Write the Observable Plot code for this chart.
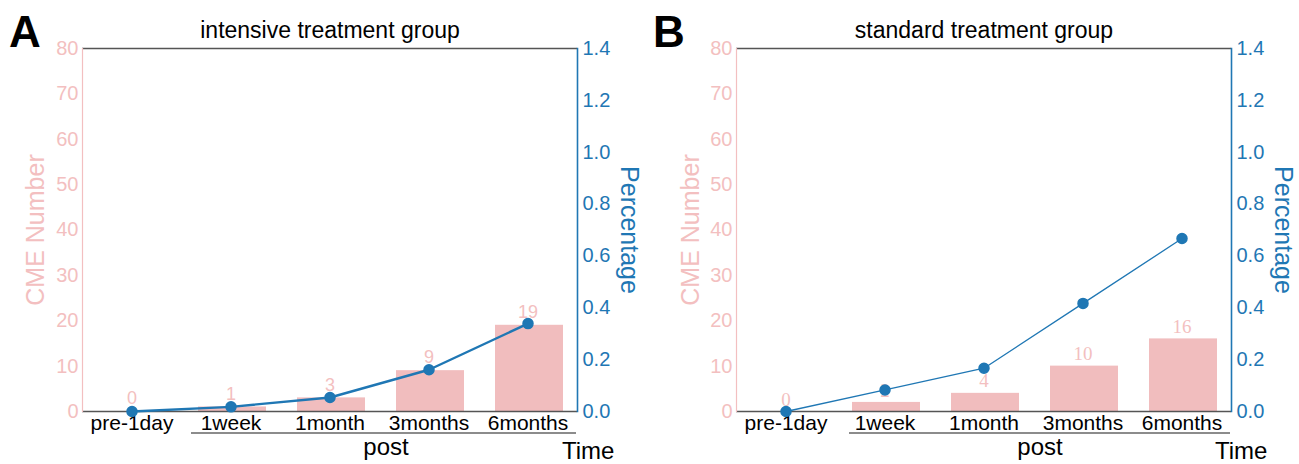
<!DOCTYPE html>
<html>
<head>
<meta charset="utf-8">
<script src="https://cdn.jsdelivr.net/npm/d3@7"></script>
<script src="https://cdn.jsdelivr.net/npm/@observablehq/plot@0.6"></script>
<style>
  html, body { margin: 0; padding: 0; background: #fff; }
  #root { position: relative; width: 1299px; height: 464px; overflow: hidden; font-family: "Liberation Sans", Arial, sans-serif; }
  .panel { position: absolute; top: 0; height: 464px; }
  .panel svg { position: absolute; left: 0; top: 0; }
  #ann { position: absolute; left: 0; top: 0; pointer-events: none; }
</style>
</head>
<body>
<div id="root">
  <div class="panel" id="pA" style="left:0px;width:650px"></div>
  <div class="panel" id="pB" style="left:650px;width:649px"></div>
</div>
<script>
// ---- data ----
const times = ["pre-1day", "1week", "1month", "3months", "6months"];
const countsA = [0, 1, 3, 9, 19];
const pctA = [0, 0.018, 0.054, 0.161, 0.339];
const countsB = [0, 2, 4, 10, 16];
const pctB = [0, 0.083, 0.167, 0.417, 0.667];
const leftTicks = [0, 10, 20, 30, 40, 50, 60, 70, 80];
const rightTicks = [0, 0.2, 0.4, 0.6, 0.8, 1.0, 1.2, 1.4];
const titles = ["intensive treatment group", "standard treatment group"];
const letters = ["A", "B"];

const BAR = "#f1bdbe";
const PINK = "#f3bfc0";
const BLUE = "#1f77b4";
const SPINE = "#555555";
const FONT = "Liberation Sans, Arial, sans-serif";

function panel(el, o) {
  const data = times.map((t, i) => ({t, n: o.counts[i], p: o.pcts[i]}));
  const common = {
    width: o.width, height: 464,
    marginLeft: o.ml, marginRight: o.mr, marginTop: 48, marginBottom: 53,
    style: {fontFamily: FONT, fontSize: "20px", background: "transparent", overflow: "visible"}
  };
  const bars = Plot.plot({
    ...common,
    x: {type: "band", domain: times, padding: 0},
    y: {domain: [0, 80]},
    marks: [
      Plot.barY(data, {x: "t", y: "n", fill: BAR, insetLeft: 17, insetRight: 14}),
      Plot.text(data, {x: "t", y: "n", text: d => String(d.n), dy: o.labelDy, fill: PINK,
        fontFamily: o.labelFont, fontSize: o.labelSize}),
      Plot.axisY({ticks: leftTicks, tickSize: 0, tickPadding: 4, color: PINK, label: null, fontSize: 20}),
      Plot.axisX({tickSize: 0, tickPadding: 4, color: "#000", label: null, fontSize: 21}),
      Plot.ruleY([80], {stroke: SPINE, strokeWidth: 1.6}),
      Plot.ruleY([0], {stroke: SPINE, strokeWidth: 1.6}),
      Plot.frame({anchor: "left", stroke: PINK, strokeWidth: 1.2}),
      Plot.text([o.title], {frameAnchor: "top", dy: -11, lineAnchor: "bottom", fill: "#000", fontSize: 23}),
      Plot.text(["CME Number"], {frameAnchor: "left", rotate: -90, dx: o.cmeDx, textAnchor: "middle",
        lineAnchor: "middle", fill: PINK, fontSize: 25})
    ]
  });
  const line = Plot.plot({
    ...common,
    x: {type: "band", domain: times, padding: 0, axis: null},
    y: {domain: [0, 1.4]},
    marks: [
      Plot.line(data, {x: "t", y: "p", stroke: BLUE, strokeWidth: o.lw}),
      Plot.dot(data, {x: "t", y: "p", r: 5, fill: BLUE, stroke: BLUE}),
      Plot.axisY({anchor: "right", ticks: rightTicks, tickFormat: ".1f", tickSize: 0, tickPadding: 5,
        color: BLUE, label: null, fontSize: 20}),
      Plot.frame({anchor: "right", stroke: BLUE, strokeWidth: 1.6}),
      Plot.text(["Percentage"], {frameAnchor: "right", rotate: 90, dx: 51, textAnchor: "middle",
        lineAnchor: "middle", fill: BLUE, fontSize: 25})
    ]
  });
  el.appendChild(bars);
  el.appendChild(line);
}

panel(document.getElementById("pA"), {
  counts: countsA, pcts: pctA, title: titles[0], width: 650, ml: 82, mr: 73,
  labelFont: FONT, labelSize: 18, labelDy: -13, lw: 2.4, cmeDx: -47
});
panel(document.getElementById("pB"), {
  counts: countsB, pcts: pctB, title: titles[1], width: 649, ml: 86, mr: 68,
  labelFont: "Liberation Serif, Times New Roman, serif", labelSize: 19, labelDy: -12, lw: 1.3, cmeDx: -46
});

// ---- annotations: panel letters, "post" bracket, "Time" ----
const ann = d3.select("#root").append("svg").attr("id", "ann").attr("width", 1299).attr("height", 464)
  .style("font-family", FONT);
const annData = [
  {letter: letters[0], lx: 9, u1: 191, u2: 576, px: 386, tx: 562},
  {letter: letters[1], lx: 653, u1: 849, u2: 1230, px: 1040, tx: 1215}
];
annData.forEach(a => {
  ann.append("text").attr("x", a.lx).attr("y", 47).attr("font-size", 44).attr("font-weight", "bold").text(a.letter);
  ann.append("line").attr("x1", a.u1).attr("x2", a.u2).attr("y1", 433).attr("y2", 433)
    .attr("stroke", "#666").attr("stroke-width", 1.6);
  ann.append("text").attr("x", a.px).attr("y", 455).attr("font-size", 24).attr("text-anchor", "middle").text("post");
  ann.append("text").attr("x", a.tx).attr("y", 459).attr("font-size", 24).text("Time");
});
</script>
</body>
</html>
